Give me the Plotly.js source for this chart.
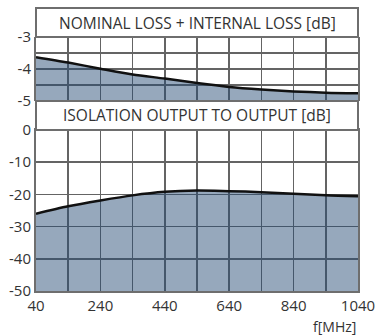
<!DOCTYPE html>
<html>
<head>
<meta charset="utf-8">
<script src="https://cdn.plot.ly/plotly-3.0.1.min.js"></script>
<style>
  html, body { margin: 0; padding: 0; background: #ffffff; }
  #chart { width: 376px; height: 336px; }
</style>
</head>
<body>
<div id="chart"></div>
<script>
// Frequency grid (MHz)
const freqMHz = [40, 140, 240, 340, 440, 540, 640, 740, 840, 940, 1040];

// Nominal loss + internal loss [dB]
const lossDb = [-3.63, -3.80, -3.99, -4.17, -4.30, -4.44, -4.56, -4.64, -4.70, -4.74, -4.76];

// Isolation output to output [dB]
const isolationDb = [-26.0, -23.7, -21.9, -20.3, -19.2, -18.8, -19.0, -19.3, -19.8, -20.3, -20.6];

// Axis ticks and labels
const xTickVals = [40, 240, 440, 640, 840, 1040];
const xTickText = ['40', '240', '440', '640', '840', '1040'];
const lossTickVals = [-3, -3.5, -4, -4.5, -5];
const lossTickText = ['-3', '', '-4', '', '-5'];
const isoTickVals = [0, -10, -20, -30, -40, -50];
const isoTickText = ['0', '-10', '-20', '-30', '-40', '-50'];

const lossRange = [-5, -3];
const isoRange = [-50, 0];

const panelTitles = ['NOMINAL LOSS + INTERNAL LOSS [dB]', 'ISOLATION OUTPUT TO OUTPUT [dB]'];
const xUnit = 'f[MHz]';

const FONT = '"Open Sans", "DejaVu Sans", sans-serif';
const TEXT = '#333333';
const FRAME = '#6e6e6e';
const GRID = '#646464';
const FILL = 'rgba(38,75,117,0.484)';

// Panel layout (paper fractions)
const isoDom = [0, 0.5689];
const band2 = [0.5689, 0.6714];
const lossDom = [0.6714, 0.8975];
const band1 = [0.8975, 1];

// baseline helpers so the area fills down to the bottom of each panel
const lossBase = freqMHz.map(() => lossRange[0]);
const isoBase = freqMHz.map(() => isoRange[0]);

const traces = [
  { x: freqMHz, y: lossBase, xaxis: 'x', yaxis: 'y2', mode: 'lines',
    line: { width: 0 }, hoverinfo: 'skip', showlegend: false },
  { x: freqMHz, y: lossDb, xaxis: 'x', yaxis: 'y2', mode: 'lines',
    line: { color: '#111111', width: 2.5, shape: 'spline', smoothing: 0.8 },
    fill: 'tonexty', fillcolor: FILL, showlegend: false },
  { x: freqMHz, y: isoBase, xaxis: 'x', yaxis: 'y', mode: 'lines',
    line: { width: 0 }, hoverinfo: 'skip', showlegend: false },
  { x: freqMHz, y: isolationDb, xaxis: 'x', yaxis: 'y', mode: 'lines',
    line: { color: '#111111', width: 2.5, shape: 'spline', smoothing: 0.8 },
    fill: 'tonexty', fillcolor: FILL, showlegend: false }
];

const xCommon = {
  range: [freqMHz[0], freqMHz[freqMHz.length - 1]],
  showgrid: true, gridcolor: GRID, gridwidth: 1.5,
  zeroline: false, showline: true, linecolor: FRAME, linewidth: 2, mirror: true,
  ticks: '', fixedrange: true
};

const layout = {
  width: 376, height: 336,
  margin: { l: 36, r: 18, t: 8, b: 45 },
  paper_bgcolor: '#ffffff', plot_bgcolor: '#ffffff',
  font: { family: FONT, size: 15, color: TEXT },
  showlegend: false,
  xaxis: Object.assign({}, xCommon, {
    anchor: 'y', tickmode: 'array', tickvals: xTickVals, ticktext: xTickText,
    ticklabeloverflow: 'allow',
    minor: { dtick: 100, tick0: 40, showgrid: true, gridcolor: GRID, gridwidth: 1.5, ticks: '' },
    tickfont: { family: FONT, size: 15, color: TEXT }
  }),
  xaxis2: Object.assign({}, xCommon, {
    anchor: 'y2', matches: 'x', showticklabels: false,
    tickmode: 'array', tickvals: xTickVals,
    minor: { dtick: 100, tick0: 40, showgrid: true, gridcolor: GRID, gridwidth: 1.5, ticks: '' }
  }),
  yaxis: {
    domain: isoDom, range: isoRange, anchor: 'x',
    tickmode: 'array', tickvals: isoTickVals, ticktext: isoTickText,
    ticklabeloverflow: 'allow',
    showgrid: true, gridcolor: GRID, gridwidth: 1.5, zeroline: false,
    showline: true, linecolor: FRAME, linewidth: 2, mirror: true, ticks: '',
    tickfont: { family: FONT, size: 15, color: TEXT }, fixedrange: true
  },
  yaxis2: {
    domain: lossDom, range: lossRange, anchor: 'x2',
    tickmode: 'array', tickvals: lossTickVals, ticktext: lossTickText,
    ticklabeloverflow: 'allow',
    showgrid: true, gridcolor: GRID, gridwidth: 1.5, zeroline: false,
    showline: true, linecolor: FRAME, linewidth: 2, mirror: true, ticks: '',
    tickfont: { family: FONT, size: 15, color: TEXT }, fixedrange: true
  },
  shapes: [
    { type: 'rect', xref: 'paper', yref: 'paper', x0: 0, x1: 1, y0: band1[0], y1: band1[1],
      fillcolor: '#ffffff', line: { color: FRAME, width: 2 } },
    { type: 'rect', xref: 'paper', yref: 'paper', x0: 0, x1: 1, y0: band2[0], y1: band2[1],
      fillcolor: '#ffffff', line: { color: FRAME, width: 2 } }
  ],
  annotations: [
    { text: panelTitles[0], xref: 'paper', yref: 'paper', x: 0.5,
      y: (band1[0] + band1[1]) / 2, xanchor: 'center', yanchor: 'middle', showarrow: false,
      font: { family: FONT, size: 15.5, color: TEXT } },
    { text: panelTitles[1], xref: 'paper', yref: 'paper', x: 0.5,
      y: (band2[0] + band2[1]) / 2, xanchor: 'center', yanchor: 'middle', showarrow: false,
      font: { family: FONT, size: 15.5, color: TEXT } },
    { text: xUnit, xref: 'paper', yref: 'paper', x: 1, y: -0.125,
      xanchor: 'right', yanchor: 'middle', showarrow: false,
      font: { family: FONT, size: 14, color: TEXT } }
  ]
};

Plotly.newPlot('chart', traces, layout, { staticPlot: true, displayModeBar: false });
</script>
</body>
</html>
